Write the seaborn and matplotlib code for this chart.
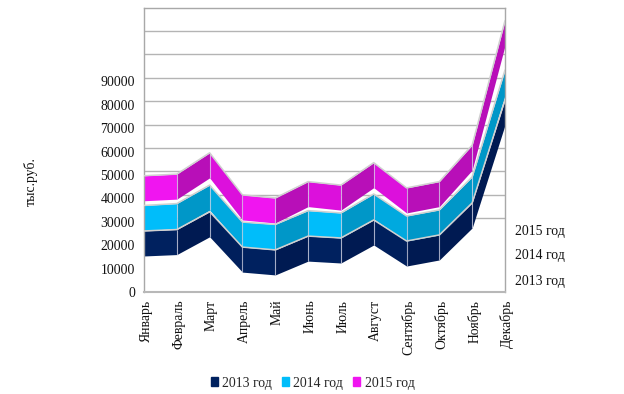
import matplotlib
matplotlib.use("Agg")
import matplotlib.pyplot as plt
from matplotlib.patches import Patch
from matplotlib.transforms import ScaledTranslation
import seaborn as sns
import numpy as np

months = ["Январь", "Февраль", "Март", "Апрель", "Май", "Июнь", "Июль",
          "Август", "Сентябрь", "Октябрь", "Ноябрь", "Декабрь"]
series_names = ["2013 год", "2014 год", "2015 год"]

# stacked chart, each list is what the year adds on top of the one below
values_2013 = [15400, 16000, 23600, 8500, 7300, 13200, 12400, 20100, 11100, 13700, 27400, 71400]
values_2014 = [10900, 11100, 11400, 10700, 10900, 10900, 10700, 11100, 10700, 10700, 11100, 12800]
values_2015 = [12700, 12600, 13800, 11600, 11300, 12400, 11900, 13400, 12000, 12100, 13600, 21100]

y_ticks = [0, 10000, 20000, 30000, 40000, 50000, 60000, 70000, 80000, 90000]
wall_grid = [30000, 40000, 50000, 60000, 70000, 80000, 90000, 100000, 110000]

# colours per year: flat segment, rising segment, falling segment
shades = [
    ("#00215f", "#001a52", "#001f5c"),
    ("#00bdfa", "#0097c8", "#00a9df"),
    ("#f015f0", "#b80fb8", "#dc10dc"),
]

RIBBON = 10700  # height of the 3d ribbon in data units
WALL_SHIFT = 1600  # back wall sits a bit higher than the front axis
FONT = 9.9


def main():
    sns.set_theme(style="white")
    plt.rcParams["font.family"] = ["Liberation Serif", "DejaVu Serif"]

    fig = plt.figure(figsize=(6.24, 3.94), dpi=100)
    ax = fig.add_axes([144 / 624, (394 - 292) / 394, 361 / 624, 284 / 394])

    x = np.arange(len(months))
    ax.set_xlim(0, 11)
    ax.set_ylim(0, 121400)

    for level in wall_grid:
        ax.axhline(level + WALL_SHIFT, color="#b4b4b4", lw=1.0, zorder=1)

    base = np.zeros(len(months))
    for name, vals, shade in zip(series_names, [values_2013, values_2014, values_2015], shades):
        base = base + np.array(vals)
        top = base + RIBBON
        for i in range(len(months) - 1):
            change = base[i + 1] - base[i]
            if abs(change) < 1500:
                color = shade[0]
            elif change > 0:
                color = shade[1]
            else:
                color = shade[2]
            ax.fill_between(x[i:i + 2], base[i:i + 2], top[i:i + 2], color=color, lw=0, zorder=2)
        ax.vlines(x[1:-1], base[1:-1], top[1:-1], color="#d8d8e8", lw=0.8, alpha=0.7, zorder=3)
        sns.lineplot(x=x, y=top, ax=ax, color="#d0d0d0", lw=1.1, zorder=4)

    ax.set_xticks(x)
    ax.set_xticklabels(months, rotation=90, fontsize=FONT, color="#111111")
    ax.set_yticks(y_ticks)
    ax.set_yticklabels([str(t) for t in y_ticks], fontsize=FONT, color="#111111")
    ax.tick_params(axis="y", length=0, pad=6.5)
    ax.tick_params(axis="x", length=0, pad=5.5)
    shift = ScaledTranslation(2 / 100, 0, fig.dpi_scale_trans)
    for label in ax.get_xticklabels():
        label.set_transform(label.get_transform() + shift)
    ax.set_xlabel("")
    ax.set_ylabel("")
    for side in ax.spines.values():
        side.set_color("#a8a8a8")
        side.set_linewidth(1.0)
    ax.spines["bottom"].set_linewidth(1.5)
    ax.spines["bottom"].set_color("#b8b8b8")

    fig.text(30.5 / 624, 1 - 182 / 394, "тыс.руб.", rotation=90, fontsize=FONT,
             ha="center", va="center", color="#111111")
    for name, py in zip(series_names, [281, 256, 232]):
        fig.text(515 / 624, 1 - py / 394, name, fontsize=FONT, ha="left", va="center", color="#111111")

    handles = [Patch(color=shade[0], label=name) for name, shade in zip(series_names, shades)]
    fig.legend(handles=handles, loc="center", bbox_to_anchor=(312.5 / 624, 1 - 383 / 394), ncol=3,
               frameon=False, fontsize=FONT, handlelength=0.55, handleheight=0.55,
               handletextpad=0.3, columnspacing=0.7, borderpad=0)

    fig.savefig("out.png", dpi=100)


if __name__ == "__main__":
    main()
